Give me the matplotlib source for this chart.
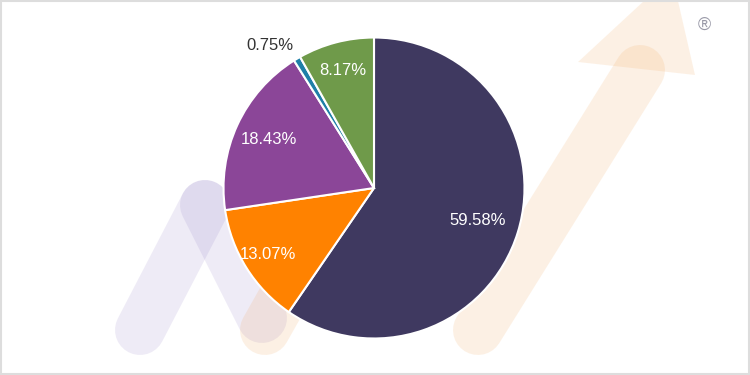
import matplotlib.pyplot as plt
import numpy as np
from matplotlib.patches import Polygon, Rectangle

# slice shares, clockwise from 12 o'clock
labels = ['A', 'B', 'C', 'D', 'E']
shares = [59.58, 13.07, 18.43, 0.75, 8.17]
colors = ['#3f3960', '#ff8200', '#8b4698', '#1f7fa8', '#6f9a4a']
# distance of each percentage label from the centre (fraction of radius)
label_r = [0.72, 0.83, 0.77, 1.1, 0.81]

plt.rcParams['font.family'] = ['Liberation Sans', 'DejaVu Sans']

fig = plt.figure(figsize=(7.5, 3.75), dpi=100)
fig.patch.set_facecolor('white')

# faint logo watermark behind the pie, in pixel coordinates
bg = fig.add_axes([0, 0, 1, 1])
bg.set_xlim(0, 750)
bg.set_ylim(375, 0)
bg.axis('off')
lw = 36  # points, ~50px stroke
purple = dict(color='#7a62b8', alpha=0.12, lw=lw, solid_capstyle='round')
orange = dict(color='#f0a050', alpha=0.15, lw=lw, solid_capstyle='round')
bg.plot([140, 205], [330, 205], **purple)
bg.plot([205, 262], [205, 318], **purple)
bg.plot([265, 330], [330, 215], **orange)
bg.plot([478, 640], [330, 70], **orange)
bg.add_patch(Polygon([[578, 62], [695, 75], [672, -25]], closed=True,
                     facecolor='#f0a050', alpha=0.15, edgecolor='none'))
bg.text(704, 25, '\u00ae', fontsize=13, color='#9a9aa8', ha='center', va='center')
bg.add_patch(Rectangle((1, 1), 748, 373, fill=False, edgecolor='#dddddd', lw=1.5))

ax = fig.add_axes([222 / 750, 35 / 375, 304 / 750, 304 / 375])
wedges, texts, autotexts = ax.pie(
    shares, colors=colors, startangle=90, counterclock=False,
    autopct='%.2f%%', pctdistance=0.78,
    wedgeprops=dict(edgecolor='white', linewidth=1.5),
    textprops=dict(color='white', fontsize=12))
ax.set_xlim(-1.01, 1.01)
ax.set_ylim(-1.01, 1.01)
ax.set_aspect('equal')

for w, t, s, r in zip(wedges, autotexts, shares, label_r):
    ang = np.deg2rad((w.theta1 + w.theta2) / 2)
    if s < 2:
        # small slice gets its label outside
        t.set_position((0.95 * r * np.cos(ang), r * np.sin(ang)))
        t.set_color('#333333')
        t.set_ha('right')
    else:
        t.set_position((r * np.cos(ang), r * np.sin(ang)))

fig.savefig('out.png', dpi=100)
